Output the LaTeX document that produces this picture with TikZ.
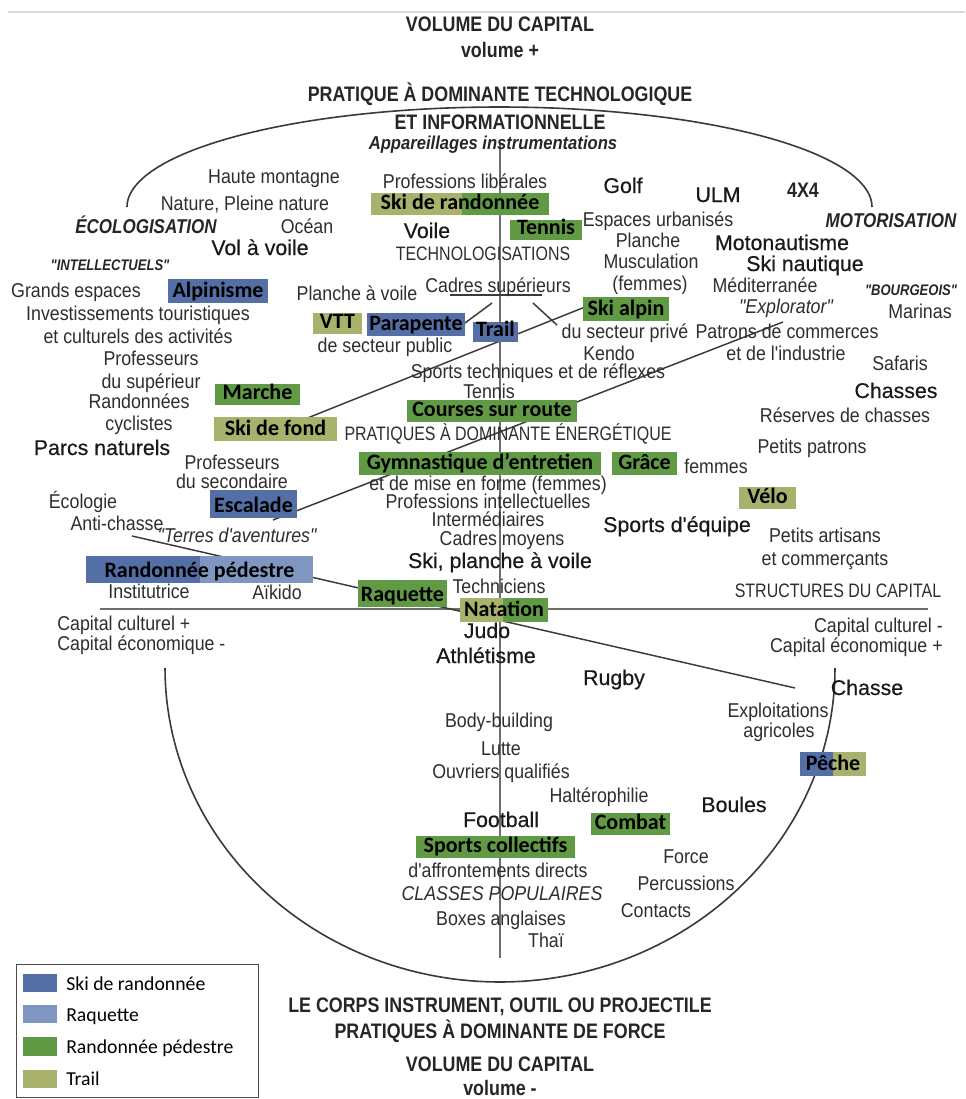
\documentclass[tikz,border=0pt]{standalone}
\usepackage{fontspec}
\setmainfont{Liberation Sans}
\newfontfamily\condf[FakeStretch=0.89]{Liberation Sans}
\newfontfamily\capsf[FakeStretch=0.82]{Liberation Sans}
\newfontfamily\hdf[FakeStretch=0.85]{Liberation Sans}
\newfontfamily\bigf[FakeBold=0.4]{Liberation Sans}
\newfontfamily\labf{Carlito}
\definecolor{cBlue}{HTML}{546FA6}
\definecolor{cLBlue}{HTML}{7F96C0}
\definecolor{cGreen}{HTML}{619A45}
\definecolor{cKhaki}{HTML}{A8B26C}
\definecolor{ink}{HTML}{2E2E2E}
\definecolor{axisc}{HTML}{6E6E6E}
\definecolor{linec}{HTML}{3A3A3A}
\newcommand\lbox[7]{%
  \fill[#6] (#2,#3) rectangle (#4,#5);
  \node[lab] (#1) at ({(#2+#4)/2},{#5-5.5}) {#7};}
\newcommand\lsplit[9]{%
  \fill[#7] (#2,#3) rectangle (#4,#6);
  \fill[#8] (#4,#3) rectangle (#5,#6);
  \node[lab] (#1) at ({(#2+#5)/2},{#6-5.5}) {#9};}
\begin{document}
\begin{tikzpicture}[x=0.75pt,y=-0.75pt,
  every node/.style={inner sep=0pt,anchor=base},
  tx/.style={font={\condf\fontsize{15}{18}\selectfont},text=ink},
  cp/.style={font={\capsf\fontsize{14.6}{17}\selectfont},text=ink},
  bg/.style={font={\bigf\fontsize{16}{19}\selectfont},text=black!90},
  hd/.style={font={\hdf\bfseries\fontsize{15.75}{19}\selectfont},text=black!85},
  itb/.style={font={\hdf\bfseries\itshape\fontsize{15}{18}\selectfont},text=black!85},
  itbs/.style={font={\hdf\bfseries\itshape\fontsize{11.5}{14}\selectfont},text=black!85},
  iti/.style={font={\condf\itshape\fontsize{15}{18}\selectfont},text=ink},
  itm/.style={font={\condf\bfseries\itshape\fontsize{14}{17}\selectfont},text=black!85},
  lab/.style={font={\labf\bfseries\fontsize{16.5}{19}\selectfont},text=black},
  leg/.style={font={\labf\fontsize{14.8}{18}\selectfont},text=black,anchor=base west},
  axisl/.style={draw=axisc,line width=1.5pt},
  thin/.style={draw=linec,line width=1.1pt},
  arcl/.style={draw=linec,line width=1.2pt}]
\useasboundingbox (0,0) rectangle (965,1099);
\fill[white] (0,0) rectangle (965,1099);
% top rule
\coordinate (r1) at (8,12); \coordinate (r2) at (965,12);
\draw[black!15,line width=0.8pt] (r1) -- (r2);
% arcs
\draw[arcl] plot[domain=180:360,samples=120] ({499.5+372.5*cos(\x)},{207+100*sin(\x)});
\draw[arcl] plot[domain=180:0,samples=120] ({500+335*cos(\x)},{668+314*sin(\x)});
% axes
\coordinate (vtop) at (500,143); \coordinate (vbot) at (500,958);
\coordinate (hl) at (100,609); \coordinate (hr) at (928,609);
\draw[axisl] (vtop) -- (vbot);
\draw[axisl] (hl) -- (hr);
% cadres superieurs bracket
\coordinate (cs1) at (450,295); \coordinate (cs2) at (542,295);
\coordinate (cd1) at (492,303); \coordinate (cd1e) at (465,323);
\coordinate (cd2) at (533,303); \coordinate (cd2e) at (557,325);
\draw[thin] (cs1) -- (cs2);
\draw[thin] (cd1) -- (cd1e);
\draw[thin] (cd2) -- (cd2e);
% diagonals
\coordinate (ua) at (300,421); \coordinate (ub) at (605,299);
\coordinate (la) at (273,520); \coordinate (lb) at (783,322);
\coordinate (da) at (132,536); \coordinate (db) at (795,688);
\draw[thin] (ua) -- (ub);
\draw[thin] (la) -- (lb);
\draw[thin] (da) -- (db);
% headers
\node[hd] (h1) at (500,32) {VOLUME DU CAPITAL};
\node[hd] (h2) at (500,58) {volume +};
\node[hd] (h3) at (500,102) {PRATIQUE À DOMINANTE TECHNOLOGIQUE};
\node[hd] (h4) at (500,129) {ET INFORMATIONNELLE};
\node[itm] (h5) at (493,149) {Appareillages instrumentations};
\node[hd] (f1) at (500,1012) {LE CORPS INSTRUMENT, OUTIL OU PROJECTILE};
\node[hd] (f2) at (500,1038) {PRATIQUES À DOMINANTE DE FORCE};
\node[hd] (f3) at (500,1071) {VOLUME DU CAPITAL};
\node[hd] (f4) at (500,1095) {volume -};
% upper left
\node[tx] (t1) at (274,183) {Haute montagne};
\node[tx] (t2) at (245,210) {Nature, Pleine nature};
\node[tx] (t3) at (307,233) {Océan};
\node[itb] (t4) at (146,233) {ÉCOLOGISATION};
\node[bg] (t5) at (260,255) {Vol à voile};
\node[itbs] (t6) at (110,270) {"INTELLECTUELS"};
\node[tx] (t7) at (76,297) {Grands espaces};
\node[tx] (t8) at (138,320) {Investissements touristiques};
\node[tx] (t9) at (138,343) {et culturels des activités};
\node[tx] (t10) at (151,365) {Professeurs};
\node[tx] (t11) at (151,388) {du supérieur};
\node[tx] (t12) at (139,408) {Randonnées};
\node[tx] (t13) at (139,430) {cyclistes};
\node[bg] (t14) at (102,455) {Parcs naturels};
\node[tx] (t15) at (232,469) {Professeurs};
\node[tx] (t16) at (232,488) {du secondaire};
\node[tx] (t17) at (83,508) {Écologie};
\node[tx] (t18) at (117,530) {Anti-chasse};
\node[iti] (t19) at (237,542) {"Terres d'aventures"};
\node[tx] (t20) at (149,598) {Institutrice};
\node[tx] (t21) at (277,599) {Aïkido};
\node[tx,anchor=base west] (t22) at (57,630) {Capital culturel +};
\node[tx,anchor=base west] (t23) at (57,650) {Capital économique -};
% upper centre / right
\node[tx] (c1) at (465,188) {Professions libérales};
\node[bg] (c2) at (623,193) {Golf};
\node[bg] (c3) at (718,202) {ULM};
\node[hd] (c4) at (803,197) {4X4};
\node[itb] (c5) at (891,227) {MOTORISATION};
\node[bg] (c6) at (427,238) {Voile};
\node[cp] (c7) at (483,260) {TECHNOLOGISATIONS};
\node[tx] (c8) at (658,226) {Espaces urbanisés};
\node[tx] (c9) at (648,247) {Planche};
\node[tx] (c10) at (651,268) {Musculation};
\node[tx] (c11) at (650,290) {(femmes)};
\node[bg] (c12) at (782,250) {Motonautisme};
\node[bg] (c13) at (805,271) {Ski nautique};
\node[tx] (c14) at (765,292) {Méditerranée};
\node[itbs] (c15) at (911,295) {"BOURGEOIS"};
\node[iti] (c16) at (786,313) {"Explorator"};
\node[tx] (c17) at (920,318) {Marinas};
\node[tx] (c18) at (787,338) {Patrons de commerces};
\node[tx] (c19) at (786,360) {et de l'industrie};
\node[tx] (c20) at (900,370) {Safaris};
\node[bg] (c21) at (896,398) {Chasses};
\node[tx] (c22) at (845,422) {Réserves de chasses};
\node[tx] (c23) at (812,453) {Petits patrons};
\node[tx] (c24) at (716,473) {femmes};
\node[bg] (c25) at (677,532) {Sports d'équipe};
\node[tx] (c26) at (825,542) {Petits artisans};
\node[tx] (c27) at (825,565) {et commerçants};
\node[cp] (c28) at (838,597) {STRUCTURES DU CAPITAL};
\node[tx,anchor=base east] (c29) at (943,632) {Capital culturel -};
\node[tx,anchor=base east] (c30) at (943,652) {Capital économique +};
\node[bg] (c31) at (867,695) {Chasse};
\node[tx] (c32) at (778,717) {Exploitations};
\node[tx] (c33) at (779,737) {agricoles};
\node[bg] (c34) at (734,812) {Boules};
\node[tx] (c35) at (686,863) {Force};
\node[tx] (c36) at (686,890) {Percussions};
\node[tx] (c37) at (656,917) {Contacts};
% centre column
\node[tx] (m1) at (357,300) {Planche à voile};
\node[tx] (m2) at (498,292) {Cadres supérieurs};
\node[tx] (m3) at (385,352) {de secteur public};
\node[tx] (m4) at (625,338) {du secteur privé};
\node[tx] (m5) at (609,360) {Kendo};
\node[tx] (m6) at (538,378) {Sports techniques et de réflexes};
\node[tx] (m7) at (489,398) {Tennis};
\node[cp] (m8) at (508,440) {PRATIQUES À DOMINANTE ÉNERGÉTIQUE};
\node[tx] (m9) at (488,490) {et de mise en forme (femmes)};
\node[tx] (m10) at (488,508) {Professions intellectuelles};
\node[tx] (m11) at (488,526) {Intermédiaires};
\node[tx] (m12) at (502,545) {Cadres moyens};
\node[bg] (m13) at (500,568) {Ski, planche à voile};
\node[tx] (m14) at (499,593) {Techniciens};
\node[bg] (m15) at (487,638) {Judo};
\node[bg] (m16) at (486,663) {Athlétisme};
\node[bg] (m17) at (614,685) {Rugby};
\node[tx] (m18) at (499,727) {Body-building};
\node[tx] (m19) at (501,755) {Lutte};
\node[tx] (m20) at (501,778) {Ouvriers qualifiés};
\node[tx] (m21) at (599,802) {Haltérophilie};
\node[bg] (m22) at (501,827) {Football};
\node[tx] (m23) at (498,877) {d'affrontements directs};
\node[iti] (m24) at (502,900) {CLASSES POPULAIRES};
\node[tx] (m25) at (501,925) {Boxes anglaises};
\node[tx] (m26) at (546,947) {Thaï};
% coloured labels
\lsplit{skr}{371}{193}{462}{549}{215}{cKhaki}{cGreen}{Ski de randonnée}
\lbox{tenL}{510}{220}{582}{240}{cGreen}{Tennis}
\lbox{alp}{168}{279}{268}{303}{cBlue}{Alpinisme}
\lbox{vtt}{313}{313}{362}{334}{cKhaki}{VTT}
\lbox{para}{367}{313}{465}{336}{cBlue}{Parapente}
\lbox{trl}{473}{322}{518}{342}{cBlue}{Trail}
\lbox{skia}{583}{297}{669}{321}{cGreen}{Ski alpin}
\lbox{mar}{215}{384}{300}{405}{cGreen}{Marche}
\lbox{skif}{214}{417}{337}{441}{cKhaki}{Ski de fond}
\lbox{crs}{407}{400}{577}{422}{cGreen}{Courses sur route}
\lbox{gym}{359}{452}{601}{475}{cGreen}{Gymnastique d’entretien}
\lbox{gra}{612}{452}{677}{475}{cGreen}{Grâce}
\lbox{esc}{210}{490}{297}{518}{cBlue}{Escalade}
\lbox{vel}{739}{487}{796}{509}{cKhaki}{Vélo}
\lsplit{rp}{86}{556}{200}{313}{583}{cBlue}{cLBlue}{Randonnée pédestre}
\lbox{raq}{358}{580}{447}{607}{cGreen}{Raquette}
\lsplit{nat}{460}{598}{503}{548}{622}{cKhaki}{cGreen}{Natation}
\lsplit{pec}{800}{752}{833}{866}{776}{cBlue}{cKhaki}{Pêche}
\lbox{cmb}{591}{813}{670}{835}{cGreen}{Combat}
\lbox{spc}{416}{836}{575}{858}{cGreen}{Sports collectifs}
% legend
\node[draw=black!70,line width=0.8pt,minimum width=242*0.75pt,minimum height=133*0.75pt,anchor=north west] (legbox) at (16,964) {};
\fill[cBlue] (23,974) rectangle (57,992);
\fill[cLBlue] (23,1005) rectangle (57,1023);
\fill[cGreen] (23,1037) rectangle (57,1056);
\fill[cKhaki] (23,1070) rectangle (57,1088);
\node[leg] (l1) at (66,990) {Ski de randonnée};
\node[leg] (l2) at (66,1021) {Raquette};
\node[leg] (l3) at (66,1053) {Randonnée pédestre};
\node[leg] (l4) at (66,1085) {Trail};
\end{tikzpicture}
\end{document}
